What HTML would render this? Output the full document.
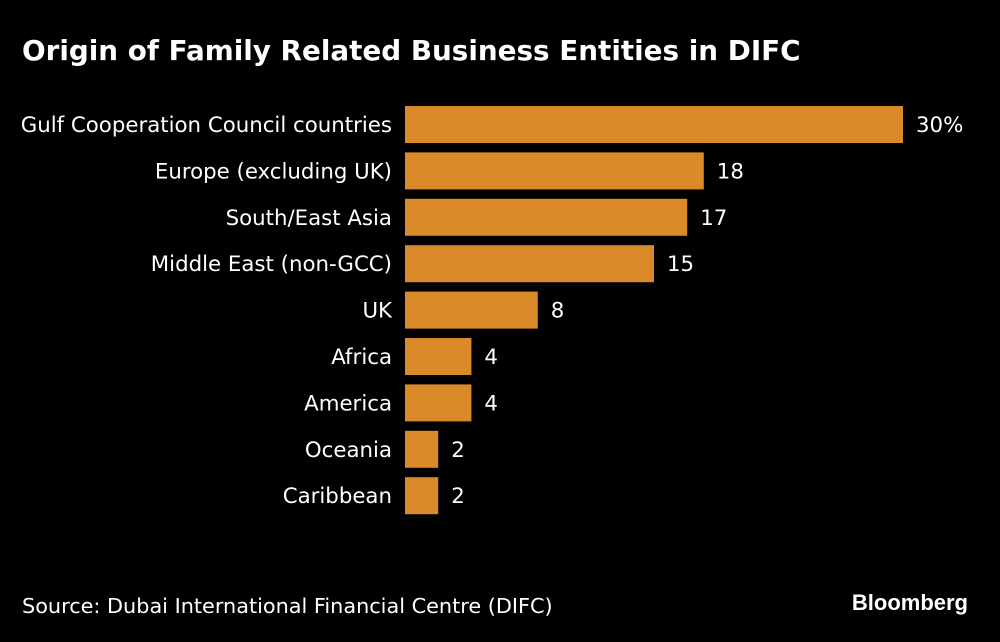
<!DOCTYPE html>
<html><head><meta charset="utf-8"><style>
body{margin:0;background:#000;width:1000px;height:638px;overflow:hidden;font-family:"DejaVu Sans","Liberation Sans",sans-serif;color:#fff}
</style></head><body>
<svg width="1000" height="638">
<text x="22" y="60" font-size="27.8" font-weight="bold" fill="#fff" font-family="'DejaVu Sans','Liberation Sans',sans-serif">Origin of Family Related Business Entities in DIFC</text>
<g id="bars"></g>
<text x="22" y="613" font-size="20.8" fill="#fff">Source: Dubai International Financial Centre (DIFC)</text>
<text x="968" y="610" font-size="22" font-weight="bold" text-anchor="end" fill="#fff" font-family="'Liberation Sans',sans-serif">Bloomberg</text>
</svg>
<script>
const categories=["Gulf Cooperation Council countries","Europe (excluding UK)","South/East Asia","Middle East (non-GCC)","UK","Africa","America","Oceania","Caribbean"];
const values=[30,18,17,15,8,4,4,2,2];
const valueLabels=["30%","18","17","15","8","4","4","2","2"];
const ns="http://www.w3.org/2000/svg";
const g=document.getElementById("bars");
const x0=405,xs=v=>x0+v*(498/30);
const yb=i=>106+i*46.4,bh=37;
categories.forEach((c,i)=>{
  const r=document.createElementNS(ns,"rect");
  r.setAttribute("x",x0);r.setAttribute("y",yb(i));
  r.setAttribute("width",xs(values[i])-x0);r.setAttribute("height",bh);
  r.setAttribute("fill","#DA8A28");
  
  
  g.appendChild(r);
  const t=document.createElementNS(ns,"text");
  t.setAttribute("x",392);t.setAttribute("y",yb(i)+bh/2+7.5);
  t.setAttribute("text-anchor","end");t.setAttribute("font-size","21.3");t.setAttribute("fill","#fff");
  t.textContent=c;
  
  
  g.appendChild(t);
  const v=document.createElementNS(ns,"text");
  v.setAttribute("x",xs(values[i])+13);v.setAttribute("y",yb(i)+bh/2+7.5);
  v.setAttribute("font-size","21.3");v.setAttribute("fill","#fff");
  v.textContent=valueLabels[i];
  
  
  g.appendChild(v);
});
</script>
</body></html>
